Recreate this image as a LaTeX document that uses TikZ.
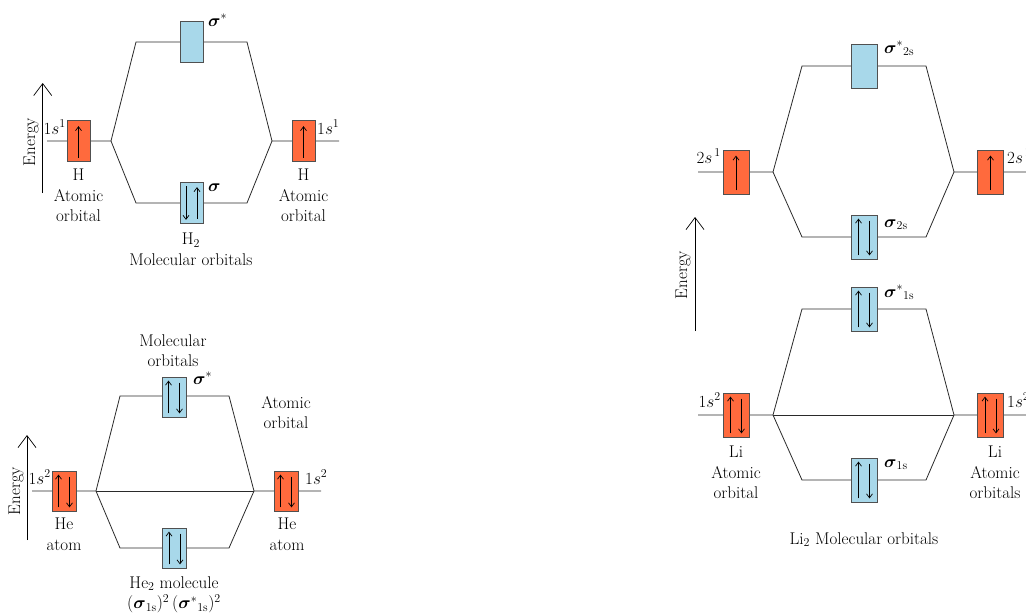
\documentclass[tikz,border=0pt]{standalone}
\usepackage{amsmath}
\usetikzlibrary{arrows.meta}
\definecolor{aoorange}{HTML}{FF6A3D}
\definecolor{moblue}{HTML}{A8D8EA}
\definecolor{boxgray}{HTML}{505050}
\definecolor{linegray}{HTML}{2A2A2A}
\newcommand\SpinOneUp[1]{\draw[spin] ([yshift=4pt]#1.south) -- ([yshift=-6pt]#1.north);}
\newcommand\SpinTwo[1]{\draw[spin] ([xshift=-5.5pt,yshift=4pt]#1.south) -- ([xshift=-5.5pt,yshift=-4pt]#1.north);
  \draw[spin] ([xshift=5.5pt,yshift=-6pt]#1.north) -- ([xshift=5.5pt,yshift=4pt]#1.south);}
\newcommand\SpinTwoRev[1]{\draw[spin] ([xshift=-5.5pt,yshift=-4pt]#1.north) -- ([xshift=-5.5pt,yshift=4pt]#1.south);
  \draw[spin] ([xshift=5.5pt,yshift=5pt]#1.south) -- ([xshift=5.5pt,yshift=-5pt]#1.north);}
\begin{document}
\begin{tikzpicture}[x=1pt,y=-1pt,
  ao/.style={draw=boxgray,fill=aoorange,line width=0.8pt,inner sep=0pt},
  mo/.style={draw=boxgray,fill=moblue,line width=0.8pt,inner sep=0pt},
  szH/.style={minimum width=23pt,minimum height=41pt},
  szHe/.style={minimum width=24pt,minimum height=40pt},
  szLi/.style={minimum width=26pt,minimum height=44pt},
  lvl/.style={draw=linegray,line width=0.8pt},
  spin/.style={draw=black,line width=0.7pt,-{Straight Barb[length=4pt,width=6pt]}},
  earrow/.style={draw=black,line width=0.7pt,-{Straight Barb[length=12pt,width=18pt]}},
  txt/.style={font=\fontsize{17}{20.5}\selectfont,inner sep=0pt,align=center},
  elab/.style={txt,rotate=90}]
\useasboundingbox (0,0) rectangle (1026,613);
\clip (0,0) rectangle (1026,613);

% ---------------- H2 ----------------
\coordinate (hE0) at (42.7,193); \coordinate (hE1) at (42.7,83);
\draw[earrow] (hE0) -- (hE1);
\node[elab] (hEn) at (31,142) {Energy};
\coordinate (hL0) at (47,141); \coordinate (hR0) at (339,141);
\coordinate (hJ1) at (111,141); \coordinate (hJ2) at (272,141);
\coordinate (hT1) at (136,42); \coordinate (hT2) at (247,42);
\coordinate (hB1) at (136,203); \coordinate (hB2) at (247,203);
\draw[lvl] (hL0) -- (hJ1) -- (hT1) -- (hT2) -- (hJ2) -- (hR0);
\draw[lvl] (hJ1) -- (hB1) -- (hB2) -- (hJ2);
\node[ao,szH] (hA1) at (78.5,141) {};
\node[ao,szH] (hA2) at (303.5,141) {};
\node[mo,szH] (hMs) at (191.5,42) {};
\node[mo,szH] (hMb) at (191.5,203) {};
\SpinOneUp{hA1}
\SpinOneUp{hA2}
\SpinTwoRev{hMb}
\node[txt,anchor=base east] (hl1) at (66,134) {1$s^1$};
\node[txt,anchor=base west] (hl2) at (317,134) {1$s^1$};
\node[txt,anchor=base west] (hls) at (208,26) {$\boldsymbol{\sigma}^{*}$};
\node[txt,anchor=base west] (hlb) at (208,191) {$\boldsymbol{\sigma}$};
\node[txt,anchor=north] (hat1) at (78.5,169) {H\\Atomic\\orbital};
\node[txt,anchor=north] (hat2) at (303.5,169) {H\\Atomic\\orbital};
\node[txt,anchor=north] (hmol) at (191,233) {H$_2$\\Molecular orbitals};

% ---------------- He2 ----------------
\coordinate (eE0) at (27,540); \coordinate (eE1) at (27,435);
\draw[earrow] (eE0) -- (eE1);
\node[elab] (eEn) at (16,491) {Energy};
\coordinate (eL0) at (32,491); \coordinate (eR0) at (321,491);
\coordinate (eJ1) at (96,491); \coordinate (eJ2) at (254,491);
\coordinate (eT1) at (120,396); \coordinate (eT2) at (229,396);
\coordinate (eB1) at (120,548); \coordinate (eB2) at (229,548);
\draw[lvl] (eL0) -- (eJ1) -- (eT1) -- (eT2) -- (eJ2) -- (eR0);
\draw[lvl] (eJ1) -- (eB1) -- (eB2) -- (eJ2);
\draw[lvl] (eJ1) -- (eJ2);
\node[ao,szHe] (eA1) at (64,491) {};
\node[ao,szHe] (eA2) at (286,491) {};
\node[mo,szHe] (eMs) at (174,397) {};
\node[mo,szHe] (eMb) at (174.5,548) {};
\SpinTwo{eA1}
\SpinTwo{eA2}
\SpinTwo{eMs}
\SpinTwo{eMb}
\node[txt,anchor=base east] (el1) at (51,484) {1$s^2$};
\node[txt,anchor=base west] (el2) at (305,484) {1$s^2$};
\node[txt,anchor=base west] (els) at (193,384) {$\boldsymbol{\sigma}^{*}$};
\node[txt,anchor=north] (emo) at (173,334) {Molecular\\orbitals};
\node[txt,anchor=north] (eao) at (286,396) {Atomic\\orbital};
\node[txt,anchor=north] (eat1) at (64,518) {He\\atom};
\node[txt,anchor=north] (eat2) at (287,518) {He\\atom};
\node[txt,anchor=north] (emol) at (174,576) {He$_2$ molecule\\$(\boldsymbol{\sigma}_{\mathrm{1s}})^2\,(\boldsymbol{\sigma}^{*}{}_{\mathrm{1s}})^2$};

% ---------------- Li2 ----------------
\coordinate (lE0) at (695,331); \coordinate (lE1) at (695,217);
\draw[earrow] (lE0) -- (lE1);
\node[elab] (lEn) at (683,275) {Energy};
% 2s level
\coordinate (uL0) at (698,172); \coordinate (uR0) at (1030,172);
\coordinate (uJ1) at (773,172); \coordinate (uJ2) at (954,172);
\coordinate (uT1) at (802,66); \coordinate (uT2) at (926,66);
\coordinate (uB1) at (802,237); \coordinate (uB2) at (926,237);
\draw[lvl] (uL0) -- (uJ1) -- (uT1) -- (uT2) -- (uJ2) -- (uR0);
\draw[lvl] (uJ1) -- (uB1) -- (uB2) -- (uJ2);
\node[ao,szLi] (uA1) at (736,172) {};
\node[ao,szLi] (uA2) at (990.5,172) {};
\node[mo,szLi] (uMs) at (864,66) {};
\node[mo,szLi] (uMb) at (864,237) {};
\SpinOneUp{uA1}
\SpinOneUp{uA2}
\SpinTwo{uMb}
\node[txt,anchor=base east] (ul1) at (721,163) {2$s^{\,1}$};
\node[txt,anchor=base west] (ul2) at (1007,163) {2$s^{\,1}$};
\node[txt,anchor=base west] (uls) at (884,53) {$\boldsymbol{\sigma}^{*}{}_{\mathrm{2s}}$};
\node[txt,anchor=base west] (ulb) at (884,227) {$\boldsymbol{\sigma}_{\mathrm{2s}}$};
% 1s level
\coordinate (dL0) at (698,415); \coordinate (dR0) at (1030,415);
\coordinate (dJ1) at (773,415); \coordinate (dJ2) at (954,415);
\coordinate (dT1) at (802,309); \coordinate (dT2) at (926,309);
\coordinate (dB1) at (802,480); \coordinate (dB2) at (926,480);
\draw[lvl] (dL0) -- (dJ1) -- (dT1) -- (dT2) -- (dJ2) -- (dR0);
\draw[lvl] (dJ1) -- (dB1) -- (dB2) -- (dJ2);
\draw[lvl] (dJ1) -- (dJ2);
\node[ao,szLi] (dA1) at (736,415) {};
\node[ao,szLi] (dA2) at (990.5,415) {};
\node[mo,szLi] (dMs) at (864,309) {};
\node[mo,szLi] (dMb) at (864,480) {};
\SpinTwo{dA1}
\SpinTwo{dA2}
\SpinTwo{dMs}
\SpinTwo{dMb}
\node[txt,anchor=base east] (dl1) at (721,407) {1$s^2$};
\node[txt,anchor=base west] (dl2) at (1007,407) {1$s^2$};
\node[txt,anchor=base west] (dls) at (884,297) {$\boldsymbol{\sigma}^{*}{}_{\mathrm{1s}}$};
\node[txt,anchor=base west] (dlb) at (884,467) {$\boldsymbol{\sigma}_{\mathrm{1s}}$};
\node[txt,anchor=north] (dat1) at (736,446) {Li\\Atomic\\orbital};
\node[txt,anchor=north] (dat2) at (995,446) {Li\\Atomic\\orbitals};
\node[txt,anchor=north] (dmol) at (864,532) {Li$_2$ Molecular orbitals};
\end{tikzpicture}
\end{document}
